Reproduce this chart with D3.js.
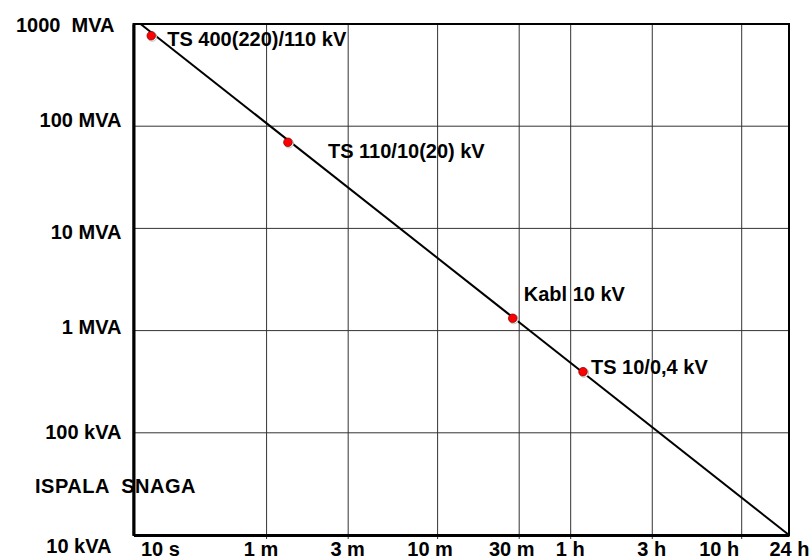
<!DOCTYPE html>
<html>
<head>
<meta charset="utf-8">
<script src="https://cdn.jsdelivr.net/npm/d3@7"></script>
<style>
	body { margin: 0; background: #fff; }
	svg { display: block; }
	text { font-family: "Liberation Sans", Arial, sans-serif; font-weight: bold; white-space: pre; fill: #000; }
</style>
</head>
<body>
<div id="chart"></div>
<script>
// time axis (seconds) and power axis (kVA)
var timeTicks = [10, 60, 180, 600, 1800, 3600, 10800, 36000, 86400];
var timeLabels = ["10 s", "1 m", "3 m", "10 m", "30 m", "1 h", "3 h", "10 h", "24 h"];

var powerTicks = [1e6, 1e5, 1e4, 1e3, 1e2, 10];
var powerLabels = ["1000  MVA", "100 MVA", "10 MVA", "1 MVA", "100 kVA", "10 kVA"];

// the straight line: start / end
var lineTime = [11, 86400];
var linePower = [1e6, 10];

// the marked points
var pointNames = ["TS 400(220)/110 kV", "TS 110/10(20) kV", "Kabl 10 kV", "TS 10/0,4 kV"];
var pointTime = [12.7, 80, 1650, 4250];
var pointPower = [768000, 69600, 1320, 396];

var yTitle = "ISPALA  SNAGA";

// hand placement of the texts, as in the original drawing
var labelOffsets = [[16, 10], [40, 16], [11, -17], [8, 2]];
var timeNudge = [7, -6, -1, -8, -8, -1, -1, -23, 0];
var powerNudgeX = [-7, 0, 0, 0, 0, -10];
var powerNudgeY = [0, -7, 3, -4, -1, 10];

var width = 810,
	height = 559,
	margin = { top: 24, right: 21, bottom: 24, left: 133.5 },
	fontSize = 20;

var svg = d3.select("#chart").append("svg")
	.attr("width", width)
	.attr("height", height);

// x is log, but the last step (10 h -> 24 h) is squeezed like in the original
var x = d3.scaleLog()
	.domain([10, 36000, 86400])
	.range([margin.left, 741.7, width - margin.right]);

var y = d3.scaleLog()
	.domain([10, 1e6])
	.range([height - margin.bottom, margin.top]);

// -----GRID-----
var grid = svg.append("g").attr("class", "grid");

grid.selectAll(".vgrid")
	.data(timeTicks.slice(1, -1))
	.enter().append("line")
	.attr("class", "vgrid")
	.attr("x1", function (d) { return x(d); })
	.attr("x2", function (d) { return x(d); })
	.attr("y1", margin.top)
	.attr("y2", height - margin.bottom + 4)
	.attr("stroke", "#333")
	.attr("stroke-width", 1);

grid.selectAll(".hgrid")
	.data(powerTicks.slice(1, -1))
	.enter().append("line")
	.attr("class", "hgrid")
	.attr("x1", margin.left)
	.attr("x2", width - margin.right)
	.attr("y1", function (d) { return y(d); })
	.attr("y2", function (d) { return y(d); })
	.attr("stroke", "#333")
	.attr("stroke-width", 1);

// frame: top + right thinner, left + bottom heavier
svg.append("rect")
	.attr("x", margin.left)
	.attr("y", margin.top)
	.attr("width", width - margin.right - margin.left)
	.attr("height", height - margin.bottom - margin.top)
	.attr("fill", "none")
	.attr("stroke", "#000")
	.attr("stroke-width", 2);

// -----AXES-----
var xAxis = svg.append("g")
	.attr("transform", "translate(0," + (height - margin.bottom) + ")")
	.call(d3.axisBottom(x)
		.tickValues(timeTicks)
		.tickFormat(function (d, i) { return timeLabels[i]; })
		.tickSize(0));

xAxis.select(".domain").attr("stroke", "#000").attr("stroke-width", 3);
xAxis.selectAll("text")
	.attr("font-size", fontSize)
	.attr("dy", null)
	.attr("y", 21)
	.attr("text-anchor", function (d, i) { return i === 0 ? "start" : "middle"; })
	.attr("dx", function (d, i) { return timeNudge[i]; });

var yAxis = svg.append("g")
	.attr("transform", "translate(" + margin.left + ",0)")
	.call(d3.axisLeft(y)
		.tickValues(powerTicks)
		.tickFormat(function (d, i) { return powerLabels[i]; })
		.tickSize(0)
		.tickPadding(12));

yAxis.select(".domain").attr("stroke", "#000").attr("stroke-width", 3);
yAxis.selectAll("text")
	.attr("font-size", fontSize)
	.attr("dx", function (d, i) { return powerNudgeX[i]; })
	.attr("dy", function (d, i) { return (7 + powerNudgeY[i]) + "px"; });

svg.append("text")
	.attr("x", 35)
	.attr("y", 493)
	.attr("font-size", fontSize)
	.attr("letter-spacing", 0.5)
	.text(yTitle);

// -----LINE-----
var lineData = lineTime.map(function (t, i) { return { t: t, p: linePower[i] }; });

svg.append("path")
	.datum(lineData)
	.attr("fill", "none")
	.attr("stroke", "#000")
	.attr("stroke-width", 2)
	.attr("d", d3.line()
		.x(function (d) { return x(d.t); })
		.y(function (d) { return y(d.p); }));

// -----POINTS-----
var points = pointNames.map(function (n, i) {
	return { name: n, t: pointTime[i], p: pointPower[i], off: labelOffsets[i] };
});

var pts = svg.append("g").selectAll("g")
	.data(points)
	.enter().append("g")
	.attr("transform", function (d) { return "translate(" + x(d.t) + "," + y(d.p) + ")"; });

// little white shade under the dot
pts.append("circle")
	.attr("cx", 1).attr("cy", 1)
	.attr("r", 4.6)
	.attr("fill", "#fff")
	.attr("stroke", "#999")
	.attr("stroke-width", 0.6);

pts.append("circle")
	.attr("r", 4.3)
	.attr("fill", "#f00")
	.attr("stroke", "#700")
	.attr("stroke-width", 0.7);

pts.append("text")
	.attr("x", function (d) { return d.off[0]; })
	.attr("y", function (d) { return d.off[1]; })
	.attr("font-size", fontSize)
	.text(function (d) { return d.name; });
</script>
</body>
</html>
